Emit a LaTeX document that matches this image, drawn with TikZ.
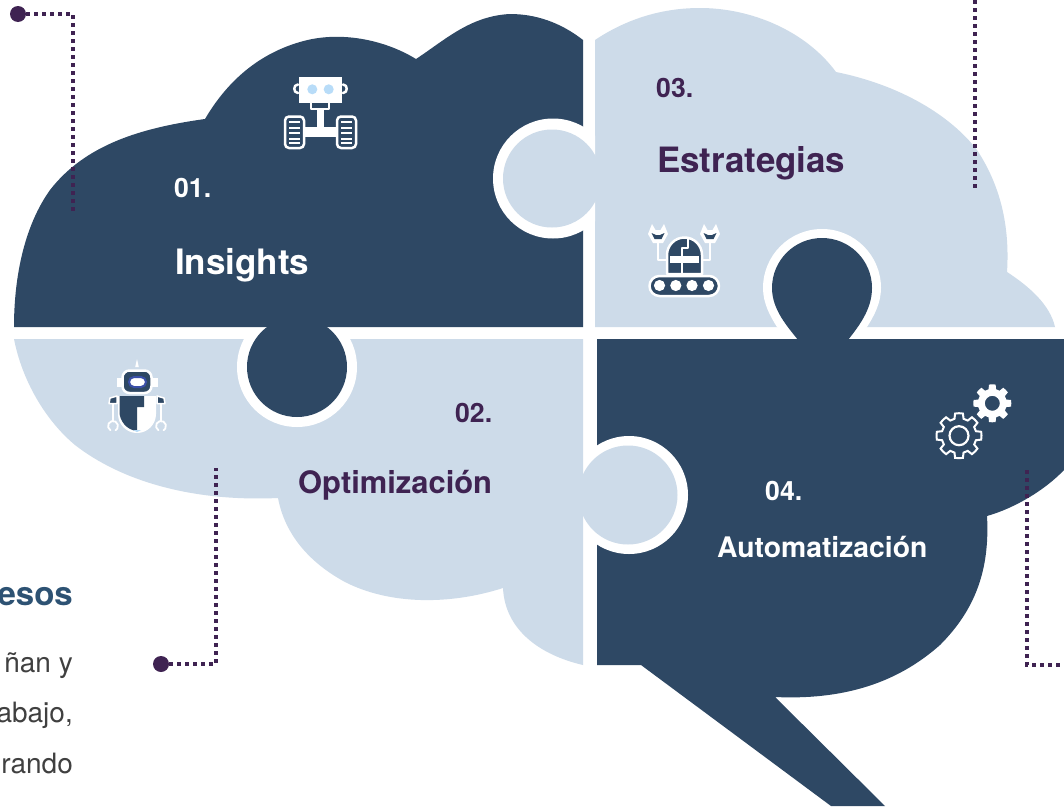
\documentclass[tikz,border=0pt]{standalone}
\usepackage{fontspec}
\setmainfont{TeX Gyre Heros}
\definecolor{navy}{HTML}{2E4864}
\definecolor{pale}{HTML}{CDDBE9}
\definecolor{plum}{HTML}{3F2352}
\definecolor{skyb}{HTML}{B8DCF8}
\definecolor{visor}{HTML}{3A4FA8}
\definecolor{headblue}{HTML}{2D5273}
\definecolor{bodygray}{HTML}{404040}
\usetikzlibrary{calc}
\tikzset{
  navyfill/.style={fill=navy,draw=none},
  palefill/.style={fill=pale,draw=none},
  whitefill/.style={fill=white,draw=none},
  leader/.style={draw=plum,line width=3.8pt,dash pattern=on 3.8pt off 4.2pt},
  leaderdot/.style={circle,fill=plum,draw=none,minimum size=16pt,inner sep=0pt},
  numw/.style={font=\bfseries\fontsize{26.6}{28}\selectfont,text=white,anchor=base west,inner sep=0pt},
  nump/.style={font=\bfseries\fontsize{26.6}{28}\selectfont,text=plum,anchor=base west,inner sep=0pt},
  ttl/.style={font=\bfseries,anchor=base west,inner sep=0pt},
  sidehead/.style={font=\bfseries\fontsize{33}{36}\selectfont,text=headblue,anchor=base east,inner sep=0pt},
  sidebody/.style={font=\fontsize{28}{30}\selectfont,text=bodygray,anchor=base east,inner sep=0pt},
  wline/.style={draw=white,line width=2.5pt,line join=round,line cap=round},
}
\newcommand{\gearpath}[4]{% eight teeth: cx cy outer root
  ($(#1,#2)+(0:#3)$)
  \foreach \ga in {0,45,...,315}{
    -- ($(#1,#2)+(\ga+10:#3)$) -- ($(#1,#2)+(\ga+15:#4)$) -- ($(#1,#2)+(\ga+30:#4)$) -- ($(#1,#2)+(\ga+35:#3)$) -- ($(#1,#2)+(\ga+45:#3)$)
  } -- cycle
}
\begin{document}
\begin{tikzpicture}[x=1pt,y=-1pt]
\useasboundingbox (0,0) rectangle (1064,806);
\fill[white] (0,0) rectangle (1064,806);

% top right quadrant
\path[palefill] (595,40) .. controls (625,20) and (660,8) .. (700,8)
  .. controls (750,8) and (805,30) .. (836,72)
  .. controls (900,85) and (950,115) .. (977,150)
  .. controls (1000,185) and (1010,225) .. (1007,272)
  .. controls (1030,287) and (1050,305) .. (1055,327)
  -- (595,327) -- cycle;
% ring of the dark knob
\path[whitefill] (790,340) -- (777,327) .. controls (770,316) and (763,303) .. (763,288)
  arc[start angle=180,end angle=360,radius=59]
  .. controls (881,303) and (874,316) .. (867,327) -- (854,340) -- cycle;

% bottom right quadrant
\path[navyfill] (597,339) -- (1064,339) -- (1064,470)
  .. controls (1045,490) and (1015,508) .. (987,516)
  .. controls (990,570) and (975,610) .. (940,645)
  .. controls (895,685) and (840,700) .. (775,697)
  -- (885,806) -- (831,806) -- (641,665) -- (597,665) -- cycle;
\path[whitefill] (629,495) circle[radius=59];

% bottom left quadrant
\path[palefill] (14,339) -- (583,339) -- (583,665)
  .. controls (540,655) and (505,630) .. (503,588)
  .. controls (450,605) and (390,605) .. (345,582)
  .. controls (310,563) and (285,535) .. (278,498)
  .. controls (190,502) and (120,480) .. (75,445)
  .. controls (45,420) and (22,380) .. (14,339) -- cycle;
\path[whitefill] (297,367) circle[radius=60];

% top left quadrant
\path[navyfill] (14,327) -- (583,327) -- (583,40)
  .. controls (560,22) and (535,14) .. (510,14)
  .. controls (470,16) and (445,40) .. (416,59)
  .. controls (385,40) and (340,30) .. (300,42)
  .. controls (255,55) and (225,85) .. (205,119)
  .. controls (140,128) and (85,145) .. (50,190)
  .. controls (25,225) and (14,275) .. (14,327) -- cycle;
\begin{scope}
  \clip (400,100) rectangle (595,260);
  \path[whitefill] (553,178.5) circle[radius=60];
\end{scope}

% knobs
\path[palefill] (552,178.5) circle[radius=49];
\path[navyfill] (297,367) circle[radius=50];
\path[palefill] (628,495) circle[radius=49.5];
\path[navyfill] (798,340) .. controls (788,327) and (772,310) .. (772,288)
  arc[start angle=180,end angle=360,radius=50]
  .. controls (872,310) and (858,327) .. (848,340) -- cycle;

% leaders
\node[leaderdot] (d1) at (18,14) {};
\coordinate (e1a) at (73,14);
\coordinate (e1b) at (73,211);
\draw[leader] (d1) -- (e1a) -- (e1b);
\node[leaderdot] (d2) at (161,664) {};
\coordinate (e2a) at (216,664);
\coordinate (e2b) at (216,468);
\draw[leader] (d2) -- (e2a) -- (e2b);
\coordinate (e3a) at (975,0);
\coordinate (e3b) at (975,189);
\draw[leader] (e3a) -- (e3b);
\coordinate (e4a) at (1027,470);
\coordinate (e4b) at (1027,665);
\coordinate (e4c) at (1064,665);
\draw[leader] (e4a) -- (e4b) -- (e4c);

% texts
\node[numw] (n1) at (174,197) {01.};
\node[ttl,text=white,font=\bfseries\fontsize{35}{37}\selectfont] (t1) at (175,274) {Insights};
\node[nump] (n2) at (455,422) {02.};
\node[ttl,text=plum,font=\bfseries\fontsize{30.9}{33}\selectfont] (t2) at (298,493) {Optimización};
\node[nump] (n3) at (656,97) {03.};
\node[ttl,text=plum,font=\bfseries\fontsize{34.9}{37}\selectfont] (t3) at (657,172) {Estrategias};
\node[numw] (n4) at (765,500) {04.};
\node[ttl,text=white,font=\bfseries\fontsize{28.3}{30}\selectfont] (t4) at (717,557) {Automatización};
\node[sidehead] (h1) at (73,605) {esos};
\node[sidebody] (b1) at (73,672) {ñan y};
\node[sidebody] (b2) at (73,722) {abajo,};
\node[sidebody] (b3) at (73,773) {rando};

% icon 1: robot on wheels
\path[whitefill] (299,77) rectangle (342,103);
\draw[wline] (298,84.5) .. controls (293,84.5) and (293,93) .. (298,93);
\draw[wline] (343,84.5) .. controls (348,84.5) and (348,93) .. (343,93);
\path[fill=skyb] (312.3,89.3) circle[radius=5] (328.7,89.3) circle[radius=5];
\draw[wline] (311,103) -- (311,109) -- (329,109) -- (329,103);
\path[whitefill] (316.7,109) rectangle (324.3,130);
\path[whitefill] (304,127) rectangle (337,137);
\draw[wline,fill=navy,rounded corners=4pt] (285,116.5) rectangle (304,148);
\draw[wline,fill=navy,rounded corners=4pt] (337,116.5) rectangle (356,148);
\foreach \yy in {122,127.5,133,138.5,143}{
  \draw[wline,line width=2pt,line cap=butt] (289,\yy) -- (300,\yy);
  \draw[wline,line width=2pt,line cap=butt] (341,\yy) -- (352,\yy);
}

% icon 2: tracked robot
\draw[wline] (658,243) -- (658,260) -- (667,260);
\draw[wline] (710,243) -- (710,260) -- (701,260);
\foreach \hx in {658,710}{
  \path[whitefill] (\hx-6,224) -- (\hx-10,234) -- (\hx-5,243) -- (\hx+5,243) -- (\hx+10,234) -- (\hx+6,224) -- (\hx+2.5,230) -- (\hx-2.5,230) -- cycle;
  \path[navyfill] (\hx-6.5,233) -- (\hx-2,235) -- (\hx+2,235) -- (\hx+6.5,233) -- (\hx+3.5,239) -- (\hx-3.5,239) -- cycle;
}
\draw[wline,fill=navy] (667,274) -- (667,255) arc[start angle=180,end angle=360,radius=17.5] -- (702,274) -- cycle;
\path[whitefill] (670,255.5) rectangle (699,263);
\draw[wline,line width=1.5pt,line cap=butt] (682,263) -- (682,274);
\draw[wline,line width=1.5pt,line cap=butt] (688,238) -- (688,248) -- (682,248) -- (682,255.5);
\draw[wline,fill=navy,rounded corners=10pt] (649.5,276) rectangle (719,296);
\foreach \wx in {659.5,675.8,692,708.5}{
  \path[whitefill] (\wx,285.5) circle[radius=5.6];
}

% icon 3: humanoid robot
\path[whitefill] (137,359) -- (138.8,367) -- (135.2,367) -- cycle;
\path[whitefill] (116.5,378) rectangle (123,387);
\path[whitefill] (151,378) rectangle (158,387);
\draw[wline,fill=navy,rounded corners=7pt] (122.5,370.5) rectangle (151.5,393);
\draw[visor,line width=2pt,fill=white,rounded corners=5pt] (129,377) rectangle (146,387);
\path[whitefill] (118,396) -- (156,396) -- (156,414)
  arc[start angle=0,end angle=180,radius=19] -- cycle;
\path[navyfill] (119.5,396) -- (144,396) -- (144,407) -- (137,407) -- (137,431)
  .. controls (126,430) and (119.5,420) .. (119.5,412) -- cycle;
\path[fill=skyb] (133,430) -- (141,430) -- (137,432) -- cycle;
\draw[wline,fill=navy,line width=1.5pt] (117,403.5) -- (109,403.5) -- (110,398) -- (117,396) -- cycle;
\draw[wline,fill=navy,line width=1.5pt] (157,403.5) -- (165,403.5) -- (164,398) -- (157,396) -- cycle;
\draw[wline,line width=1.8pt] (113,404) -- (113,421);
\draw[wline,line width=1.8pt] (161,404) -- (161,421);
\draw[wline,line width=1.8pt] (110.5,430.3) arc[start angle=120,end angle=420,radius=5];
\draw[wline,line width=1.8pt] (158.5,430.3) arc[start angle=120,end angle=420,radius=5];

% icon 4: gears
\path[whitefill,even odd rule] \gearpath{992.3}{403.3}{19}{14.5} (992.3,403.3) circle[radius=7.5];
\draw[wline,fill=navy,line width=2pt,line cap=butt,line join=miter] \gearpath{959}{435.7}{22.5}{17.5};
\draw[wline,line width=2.2pt] (959,435.7) circle[radius=9.5];
\end{tikzpicture}
\end{document}
